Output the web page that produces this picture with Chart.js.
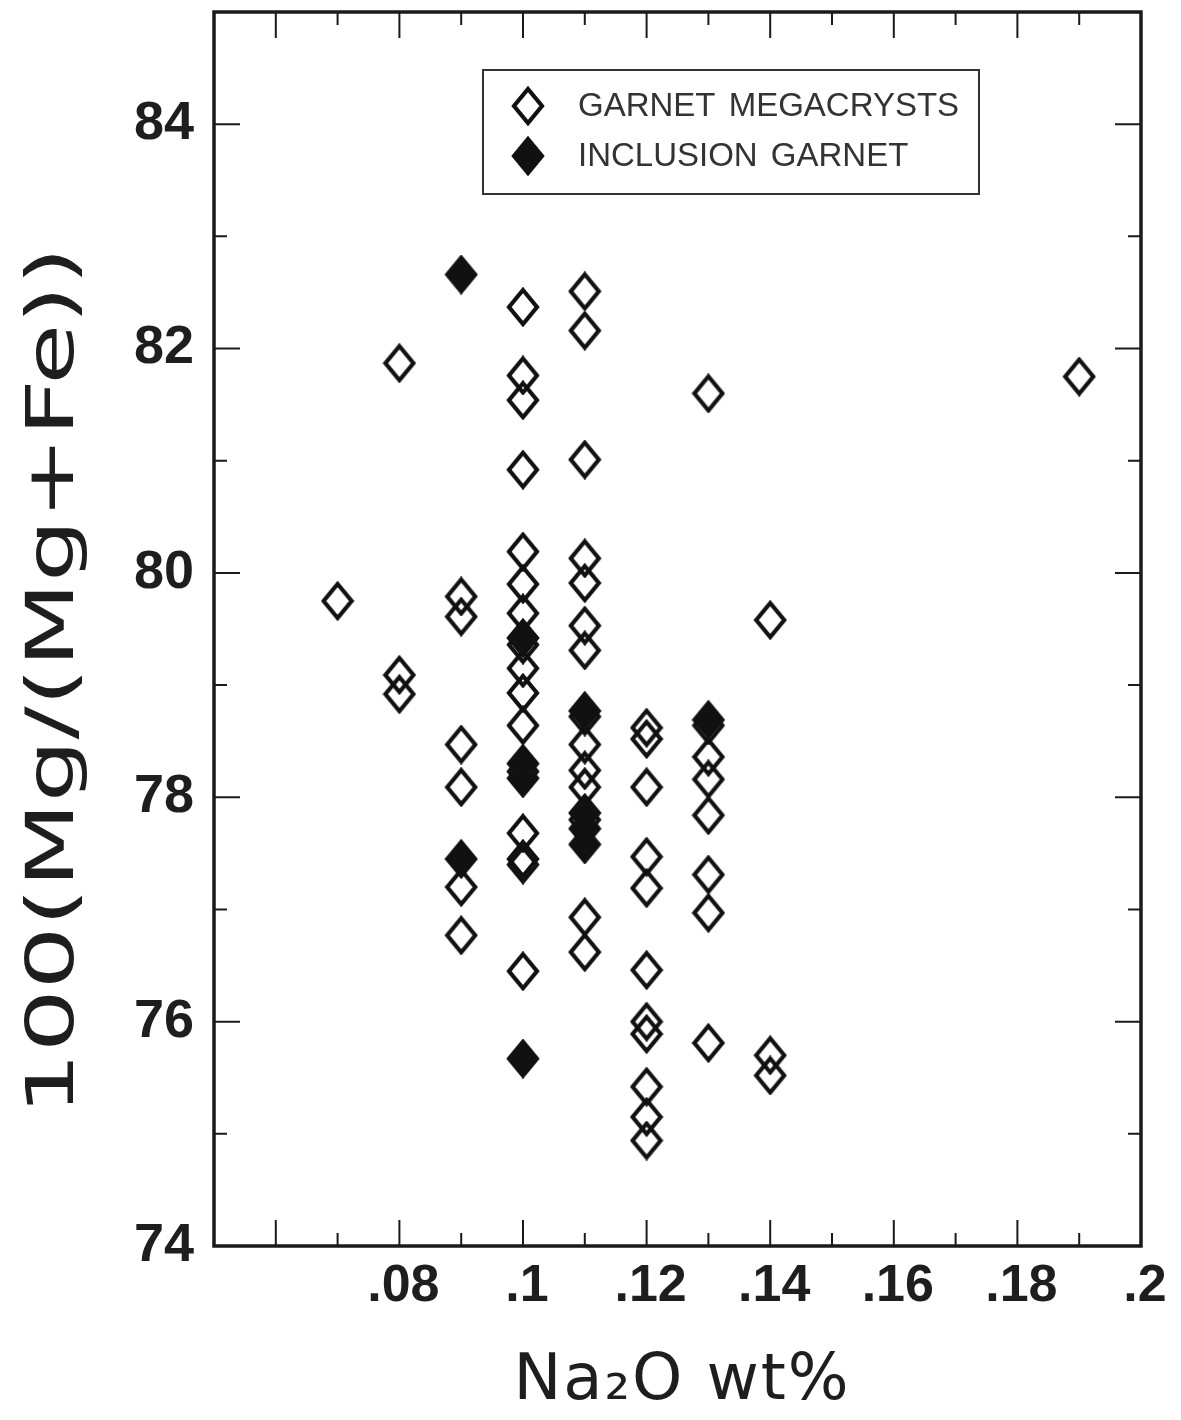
<!DOCTYPE html>
<html>
<head>
<meta charset="utf-8">
<script src="https://cdn.jsdelivr.net/npm/chart.js@4/dist/chart.umd.min.js"></script>
<style>
  html, body { margin: 0; padding: 0; background: #ffffff; }
  #wrap { width: 1181px; height: 1420px; }
</style>
</head>
<body>
<div id="wrap"><canvas id="c" width="1181" height="1420"></canvas></div>
<script>
// ---------------- DATA ----------------
const seriesNames = ['GARNET MEGACRYSTS', 'INCLUSION GARNET'];

// Garnet megacrysts (open diamonds)
const megaX = [
  0.07,
  0.08, 0.08, 0.08,
  0.09, 0.09, 0.09, 0.09, 0.09, 0.09,
  0.10, 0.10, 0.10, 0.10, 0.10, 0.10, 0.10, 0.10, 0.10, 0.10, 0.10, 0.10, 0.10, 0.10, 0.10, 0.10,
  0.11, 0.11, 0.11, 0.11, 0.11, 0.11, 0.11, 0.11, 0.11, 0.11, 0.11, 0.11, 0.11, 0.11,
  0.12, 0.12, 0.12, 0.12, 0.12, 0.12, 0.12, 0.12, 0.12, 0.12, 0.12,
  0.13, 0.13, 0.13, 0.13, 0.13, 0.13, 0.13, 0.13,
  0.14, 0.14, 0.14,
  0.19
];
const megaY = [
  79.75,
  81.87, 79.09, 78.92,
  79.79, 79.61, 78.47, 78.09, 77.20, 76.77,
  82.37, 81.76, 81.54, 80.92, 80.19, 79.90, 79.64, 79.36, 79.15, 78.93, 78.64, 78.23, 77.68, 77.45, 77.40, 76.45,
  82.51, 82.16, 81.01, 80.13, 79.91, 79.53, 79.31, 78.72, 78.47, 78.24, 78.09, 77.80, 76.93, 76.62,
  78.62, 78.52, 78.09, 77.47, 77.19, 76.46, 76.00, 75.89, 75.42, 75.15, 74.94,
  81.60, 78.64, 78.36, 78.16, 77.84, 77.31, 76.97, 75.81,
  79.58, 75.70, 75.52,
  81.75
];

// Inclusion garnet (filled diamonds)
const inclX = [0.09, 0.09, 0.10, 0.10, 0.10, 0.10, 0.11, 0.11, 0.11, 0.11, 0.13];
const inclY = [82.66, 77.45, 79.42, 78.30, 78.17, 75.67, 78.77, 77.86, 77.72, 77.58, 78.69];

// Axis ticks
const xTickValues = [0.08, 0.10, 0.12, 0.14, 0.16, 0.18, 0.20];
const xTickLabels = ['.08', '.1', '.12', '.14', '.16', '.18', '.2'];
const xMajorMarks = [0.06, 0.08, 0.10, 0.12, 0.14, 0.16, 0.18];
const xMinorMarks = [0.07, 0.09, 0.11, 0.13, 0.15, 0.17, 0.19];
const yTickValues = [74, 76, 78, 80, 82, 84];
const yTickLabels = ['74', '76', '78', '80', '82', '84'];
const yMajorMarks = [76, 78, 80, 82, 84];
const yMinorMarks = [75, 77, 79, 81, 83];

const xTitle = 'Na\u2082O wt%';
const yTitle = '100(Mg/(Mg+Fe))';

// ---------------- MARKERS ----------------
function makeDiamond(filled) {
  const c = document.createElement('canvas');
  c.width = 34; c.height = 40;
  const g = c.getContext('2d');
  g.beginPath();
  g.moveTo(17, 3);
  g.lineTo(31, 20);
  g.lineTo(17, 37);
  g.lineTo(3, 20);
  g.closePath();
  g.lineJoin = 'miter';
  if (filled) { g.fillStyle = '#111'; g.fill(); }
  g.lineWidth = 4.2;
  g.strokeStyle = '#111';
  g.stroke();
  return c;
}
const openDiamond = makeDiamond(false);
const fullDiamond = makeDiamond(true);

// ---------------- PLUGINS ----------------
const framePlugin = {
  id: 'frameTicks',
  afterDraw(chart) {
    const { ctx, chartArea: a, scales: { x, y } } = chart;
    ctx.save();
    ctx.strokeStyle = '#1a1a1a';
    ctx.lineWidth = 2;
    const major = 26, minor = 13;
    ctx.beginPath();
    const vx = (v, len) => {
      const px = x.getPixelForValue(v);
      ctx.moveTo(px, a.bottom); ctx.lineTo(px, a.bottom - len);
      ctx.moveTo(px, a.top); ctx.lineTo(px, a.top + len);
    };
    const hy = (v, len) => {
      const py = y.getPixelForValue(v);
      ctx.moveTo(a.left, py); ctx.lineTo(a.left + len, py);
      ctx.moveTo(a.right, py); ctx.lineTo(a.right - len, py);
    };
    xMajorMarks.forEach(v => vx(v, major));
    xMinorMarks.forEach(v => vx(v, minor));
    yMajorMarks.forEach(v => hy(v, major));
    yMinorMarks.forEach(v => hy(v, minor));
    ctx.stroke();
    ctx.lineWidth = 3.5;
    ctx.strokeRect(a.left, a.top, a.right - a.left, a.bottom - a.top);
    ctx.restore();
  }
};

function drawSpacedText(ctx, text, cx, cy, angle, font, target, stretch) {
  ctx.save();
  ctx.font = font;
  ctx.fillStyle = '#1e1e1e';
  ctx.textAlign = 'left';
  ctx.textBaseline = 'middle';
  const w0 = ctx.measureText(text).width;
  const n = Array.from(text).length;
  const spacing = Math.max(0, (target / stretch - w0) / (n - 1));
  const total = w0 + spacing * (n - 1);
  ctx.translate(cx, cy);
  ctx.rotate(angle);
  ctx.scale(stretch, 1);
  if ('letterSpacing' in ctx) {
    ctx.letterSpacing = spacing + 'px';
  }
  ctx.fillText(text, -total / 2, 0);
  ctx.restore();
}

const titlePlugin = {
  id: 'axisTitles',
  afterDraw(chart) {
    const { ctx } = chart;
    drawSpacedText(ctx, yTitle, 56, 681, -Math.PI / 2, 'normal 66px "DejaVu Sans"', 845, 1.5);
    drawSpacedText(ctx, xTitle, 681, 1382, 0, 'normal 64px "DejaVu Sans"', 335, 1.0);
  }
};

const legendPlugin = {
  id: 'boxLegend',
  afterDraw(chart) {
    const { ctx } = chart;
    ctx.save();
    ctx.strokeStyle = '#333';
    ctx.lineWidth = 2;
    ctx.strokeRect(483, 70, 496, 124);
    const items = [
      { img: openDiamond, text: chart.data.datasets[1].label, y: 106 },
      { img: fullDiamond, text: chart.data.datasets[0].label, y: 156 }
    ];
    ctx.font = 'normal 33px "Liberation Sans"';
    ctx.fillStyle = '#333';
    ctx.textBaseline = 'middle';
    ctx.textAlign = 'left';
    if ('wordSpacing' in ctx) ctx.wordSpacing = '4px';
    items.forEach(it => {
      ctx.drawImage(it.img, 528 - it.img.width / 2, it.y - it.img.height / 2);
      ctx.fillText(it.text, 578, it.y + 1);
    });
    ctx.restore();
  }
};

// ---------------- CHART ----------------
const toPts = (xs, ys) => xs.map((v, i) => ({ x: v, y: ys[i] }));

new Chart(document.getElementById('c'), {
  type: 'scatter',
  data: {
    datasets: [
      {
        label: seriesNames[1],
        data: toPts(inclX, inclY),
        pointStyle: fullDiamond,
        pointRadius: 16,
        order: 0
      },
      {
        label: seriesNames[0],
        data: toPts(megaX, megaY),
        pointStyle: openDiamond,
        pointRadius: 16,
        order: 1
      }
    ]
  },
  options: {
    responsive: false,
    animation: false,
    devicePixelRatio: 1,
    layout: { autoPadding: false, padding: { top: 12, right: 40, left: 0, bottom: 0 } },
    plugins: { legend: { display: false }, tooltip: { enabled: false } },
    scales: {
      x: {
        type: 'linear',
        min: 0.05,
        max: 0.2,
        grid: { display: false, drawTicks: false },
        border: { display: false },
        afterBuildTicks: axis => { axis.ticks = xTickValues.map(v => ({ value: v })); },
        afterFit: axis => { axis.height = 174; axis.paddingLeft = 0; axis.paddingRight = 0; },
        ticks: {
          autoSkip: false,
          maxRotation: 0,
          padding: 9,
          labelOffset: 4,
          color: '#1e1e1e',
          font: { family: '"Liberation Sans"', size: 52, weight: 'bold' },
          callback: (v, i) => xTickLabels[i]
        }
      },
      y: {
        type: 'linear',
        min: 74,
        max: 85,
        grid: { display: false, drawTicks: false },
        border: { display: false },
        afterBuildTicks: axis => { axis.ticks = yTickValues.map(v => ({ value: v })); },
        afterFit: axis => { axis.width = 214; axis.paddingTop = 0; axis.paddingBottom = 0; },
        ticks: {
          autoSkip: false,
          padding: 20,
          color: '#1e1e1e',
          font: { family: '"Liberation Sans"', size: 54, weight: 'bold' },
          callback: (v, i) => yTickLabels[i]
        }
      }
    }
  },
  plugins: [framePlugin, titlePlugin, legendPlugin]
});
</script>
</body>
</html>
